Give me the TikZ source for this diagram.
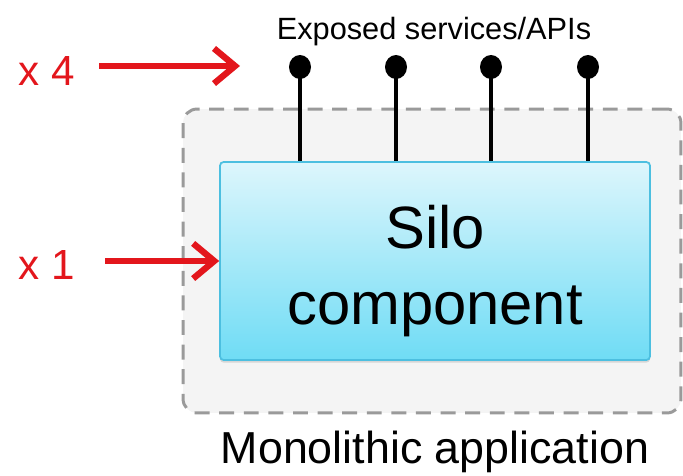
\documentclass[tikz,border=0pt]{standalone}
\usepackage{fontspec}
\setmainfont{Liberation Sans}
\usepackage{tikz}
\usetikzlibrary{arrows.meta,positioning,shadows}
\definecolor{siloedge}{HTML}{4CBFE0}
\definecolor{silotop}{HTML}{DDF6FC}
\definecolor{silobot}{HTML}{6FDCF5}
\definecolor{framegray}{HTML}{9A9A9A}
\definecolor{framefill}{HTML}{F4F4F4}
\definecolor{markred}{HTML}{E3161C}
\tikzset{
    %Define style for the application frame
    appframe/.style={
           rectangle,
           rounded corners=8pt,
           draw=framegray, line width=1.7pt,
           dash pattern=on 8.5pt off 5.5pt,
           fill=framefill},
    %Define style for the silo box
    silobox/.style={
           rectangle,
           rounded corners=2pt,
           draw=siloedge, line width=1pt,
           top color=silotop, bottom color=silobot,
           drop shadow={opacity=0.25,shadow xshift=0pt,shadow yshift=-1.5pt}},
    silolabel/.style={
           font=\fontsize{34}{43}\selectfont,
           align=center, inner sep=0pt},
    % Define style for the exposed endpoints
    pinball/.style={
           ellipse, fill=black, inner sep=0pt,
           minimum width=0.44cm, minimum height=0.48cm},
    pinline/.style={
           line width=2.3pt, black},
    % Define red marker arrows
    redarrow/.style={
           -{Straight Barb[length=12pt,width=20pt]},
           line width=3.6pt, markred},
    redlabel/.style={
           font=\fontsize{24}{28}\selectfont, text=markred}
}
\usetikzlibrary{shapes.geometric}
\begin{document}
\begin{tikzpicture}[x=0.02cm,y=-0.02cm]
\useasboundingbox (0,0) rectangle (683,476);
 %frame and silo
\node[appframe, minimum width=9.96cm, minimum height=6.08cm](app) at (432,261){};
\node[silobox, minimum width=8.6cm, minimum height=3.96cm](silo) at (435,261){};
\node[silolabel](silotxt) at (435,271){Silo\\component};
\node[font=\fontsize{25.5}{30}\selectfont, anchor=base](apptxt) at (435,463){Monolithic application};
 %exposed services
\node[font=\fontsize{17.5}{21}\selectfont](apis) at (434,32){Exposed services/APIs};
\foreach \i/\x in {1/300,2/396,3/491,4/588}{
  \node[pinball](p\i) at (\x,67){};
  \draw[pinline] (p\i.center) -- (p\i |- silo.north);
}
 %markers
\node[redlabel](x4) at (47,71){x 4};
\node[redlabel](x1) at (47,265){x 1};
\coordinate (a4) at (99,66);
\coordinate (b4) at (240,66);
\coordinate (a1) at (105,261);
\draw[redarrow] (a4) -- (b4);
\draw[redarrow] (a1) -- (silo.west);
\end{tikzpicture}
\end{document}
